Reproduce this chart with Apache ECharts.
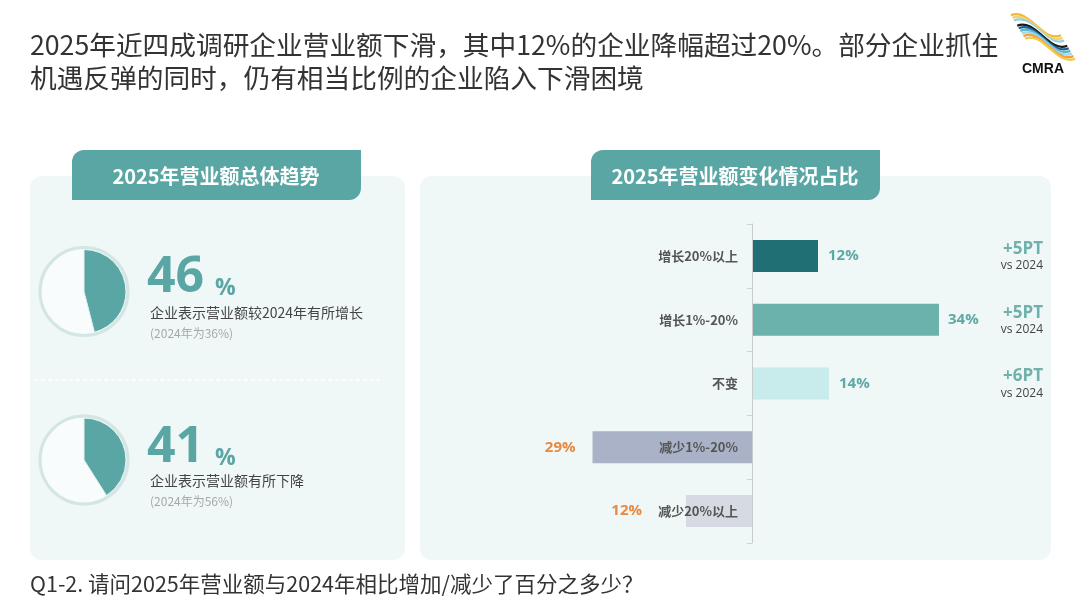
<!DOCTYPE html>
<html><head><meta charset="utf-8">
<script src="https://cdn.jsdelivr.net/npm/echarts@6/dist/echarts.min.js"></script>
<style>html,body{margin:0;padding:0;background:#fff}#c{width:1080px;height:608px}</style>
</head><body><div id="c"></div>
<script>
// ---- data ----
var categories = ['增长20%以上', '增长1%-20%', '不变', '减少1%-20%', '减少20%以上'];
var shareValues = [12, 34, 14, -29, -12];
var deltaLabels = ['+5PT', '+5PT', '+6PT', '', ''];
var deltaNote = 'vs 2024';
var trendValues = [46, 41];
var trendTexts = ['企业表示营业额较2024年有所增长', '企业表示营业额有所下降'];
var trendPrev = ['(2024年为36%)', '(2024年为56%)'];
var titleLines = ['2025年近四成调研企业营业额下滑，其中12%的企业降幅超过20%。部分企业抓住', '机遇反弹的同时，仍有相当比例的企业陷入下滑困境'];
var leftTab = '2025年营业额总体趋势';
var rightTab = '2025年营业额变化情况占比';
var footnote = 'Q1-2. 请问2025年营业额与2024年相比增加/减少了百分之多少？';

// ---- styles ----
var TEAL = '#5aa6a4';
var CJK = '"Noto Sans CJK SC","Noto Sans",sans-serif';
var barColors = ['#1f6f74', '#6bb1ac', '#c8ecec', '#a9b2c6', '#d6dbe3'];
var labelDist = [10, 9, 10, 17, 44];

var chart = echarts.init(document.getElementById('c'));

var barData = shareValues.map(function (v, i) {
  var neg = v < 0;
  return {
    value: v,
    itemStyle: { color: barColors[i] },
    label: {
      position: neg ? 'left' : 'right',
      distance: labelDist[i],
      color: neg ? '#e8893f' : '#5fa9a4'
    }
  };
});

var pieCenters = [[84, 291.5], [84, 460]];
var series = [];
trendValues.forEach(function (v, i) {
  series.push({
    type: 'pie', silent: true, center: pieCenters[i], radius: [0, 44],
    label: { show: false }, labelLine: { show: false },
    itemStyle: { color: '#f9fcfc', borderColor: '#d3e5e5', borderWidth: 3 },
    data: [1], z: 2
  });
  series.push({
    type: 'pie', silent: true, center: pieCenters[i], radius: [0, 42],
    startAngle: 90, clockwise: true,
    label: { show: false }, labelLine: { show: false },
    itemStyle: { borderColor: '#e6f2f2', borderWidth: 1 },
    data: [
      { value: v, itemStyle: { color: TEAL } },
      { value: 100 - v, itemStyle: { color: 'rgba(0,0,0,0)', borderWidth: 0 } }
    ], z: 3
  });
});

series.push({
  type: 'bar', xAxisIndex: 0, yAxisIndex: 0, barWidth: 32,
  data: barData,
  label: {
    show: true, fontSize: 15, fontWeight: 'bold', fontFamily: '"Open Sans",sans-serif',
    formatter: function (p) { return Math.abs(p.value) + '%'; }
  },
  z: 3
});

var els = [];
// panels
els.push({ type: 'rect', shape: { x: 30, y: 176, width: 375, height: 384, r: 12 }, style: { fill: '#eff7f7' }, z: -5 });
els.push({ type: 'rect', shape: { x: 420, y: 176, width: 631, height: 384, r: 12 }, style: { fill: '#eff7f7' }, z: -5 });
// tabs
els.push({ type: 'rect', shape: { x: 72, y: 150, width: 289, height: 50, r: [12, 0, 12, 0] }, style: { fill: TEAL }, z: -4 });
els.push({ type: 'rect', shape: { x: 591, y: 150, width: 289, height: 50, r: [12, 0, 12, 0] }, style: { fill: TEAL }, z: -4 });
els.push({ type: 'text', style: { text: leftTab, x: 216, y: 176, align: 'center', verticalAlign: 'middle', fill: '#fff', fontSize: 20, fontWeight: 'bold', fontFamily: CJK } });
els.push({ type: 'text', style: { text: rightTab, x: 735, y: 176, align: 'center', verticalAlign: 'middle', fill: '#fff', fontSize: 20, fontWeight: 'bold', fontFamily: CJK } });
// title
els.push({ type: 'text', style: { text: titleLines[0], x: 30, y: 45, verticalAlign: 'middle', fill: '#333', fontSize: 26.7, fontFamily: CJK } });
els.push({ type: 'text', style: { text: titleLines[1], x: 30, y: 78, verticalAlign: 'middle', fill: '#333', fontSize: 26.7, fontFamily: CJK } });
// footnote
els.push({ type: 'text', style: { text: footnote, x: 30, y: 584, verticalAlign: 'middle', fill: '#333', fontSize: 21.5, fontFamily: CJK } });
// divider
els.push({ type: 'line', shape: { x1: 34, y1: 380, x2: 380, y2: 380 }, style: { stroke: '#ffffff', lineWidth: 1.5, lineDash: [4, 3] }, z: -3 });
// trend numbers
var numY = [277, 445];
var numShift = [8, 10];
trendValues.forEach(function (v, i) {
  var y = numY[i];
  var s = numShift[i];
  els.push({ type: 'text', style: { text: String(v), x: 147, y: y + 18 + s, verticalAlign: 'bottom', fill: TEAL, fontSize: 50, fontWeight: 'bold', fontFamily: '"Open Sans",sans-serif' } });
  els.push({ type: 'text', style: { text: '%', x: 215, y: y + 17 + s - 2, verticalAlign: 'bottom', fill: TEAL, fontSize: 23, fontWeight: 'bold', fontFamily: '"Open Sans",sans-serif' } });
  els.push({ type: 'text', style: { text: trendTexts[i], x: 150, y: y + 36, verticalAlign: 'middle', fill: '#444', fontSize: 14, fontFamily: CJK } });
  els.push({ type: 'text', style: { text: trendPrev[i], x: 150, y: y + 56, verticalAlign: 'middle', fill: '#a8a8a8', fontSize: 12, fontFamily: CJK } });
});
// logo stripes
var logoColors = ['#f3b63a', '#f6d36a', '#8fd0e8', '#ffffff', '#1a1a1a', '#1f5f8a', '#5bb6d6', '#9fd8ea', '#f0a040', '#f5c84a'];
logoColors.forEach(function (c, i) {
  var o = (i - 4.5) * 2.6;
  els.push({ type: 'bezierCurve', shape: {
    x1: 1018 + o * 0.6, y1: 27 + o, x2: 1068 + o * 0.6, y2: 47 + o,
    cpx1: 1036 + o * 0.6, cpy1: 19 + o, cpx2: 1050 + o * 0.6, cpy2: 55 + o
  }, style: { stroke: c, lineWidth: 2.3, fill: null } });
});
els.push({ type: 'text', style: { text: 'CMRA', x: 1043, y: 69, align: 'center', verticalAlign: 'middle', fill: '#111', fontSize: 14, fontWeight: 'bold', fontFamily: '"Liberation Sans",Arial,sans-serif' } });

chart.setOption({
  animation: false,
  backgroundColor: '#ffffff',
  grid: { left: 587, right: 108, top: 224, bottom: 65 },
  xAxis: { type: 'value', min: -30, max: 40, show: false },
  yAxis: [{
    type: 'category', data: categories, inverse: true,
    axisLine: { show: true, onZero: true, lineStyle: { color: '#c9cccc', width: 1 } },
    axisTick: { show: true, length: 5, lineStyle: { color: '#cfd2d2' } },
    axisLabel: { margin: -151, align: 'right', fontSize: 13, fontWeight: 'bold', color: '#555', fontFamily: CJK },
    splitLine: { show: false }, z: 5
  }, {
    type: 'category', data: categories, inverse: true, position: 'right',
    axisLine: { show: false, onZero: false }, axisTick: { show: false }, splitLine: { show: false },
    axisLabel: {
      margin: 71, align: 'right',
      formatter: function (val, idx) {
        return deltaLabels[idx] ? '{a|' + deltaLabels[idx] + '}\n{b|' + deltaNote + '}' : '';
      },
      rich: {
        a: { fontSize: 17, fontWeight: 'bold', color: '#6fb1ac', align: 'right', lineHeight: 20, padding: [4, 0, 0, 0], fontFamily: '"Open Sans",sans-serif' },
        b: { fontSize: 12, color: '#444', align: 'right', lineHeight: 18, fontFamily: '"Open Sans",sans-serif' }
      }
    }
  }],
  graphic: { elements: els },
  series: series
});
</script></body></html>
